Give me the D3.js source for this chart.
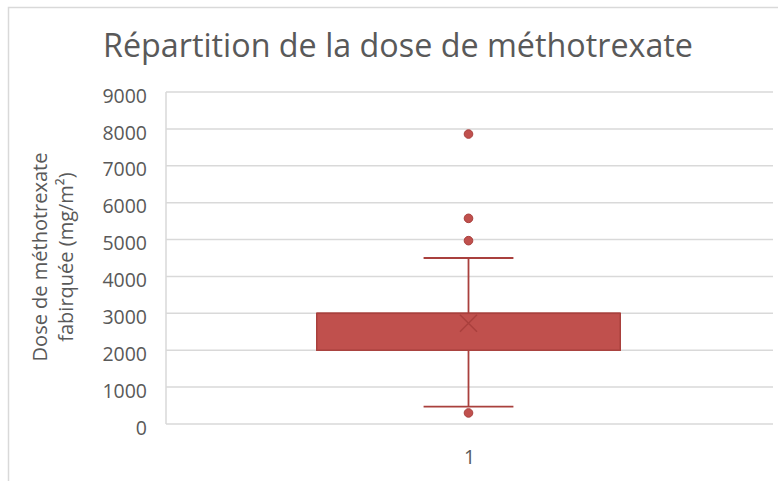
<!DOCTYPE html>
<html lang="fr">
<head>
<meta charset="utf-8">
<style>
body { margin: 0; background: #fff; }
text { font-family: "Open Sans", "Noto Sans", sans-serif; fill: #595959; }
</style>
<script src="https://cdn.jsdelivr.net/npm/d3@7"></script>
</head>
<body>
<div id="chart"></div>
<script>

var width = 778,
	height = 481;

// data
var categories = ["1"];
var q1 = [2000];
var q3 = [3000];
var median = [3000];
var mean = [2730];
var whiskerLow = [470];
var whiskerHigh = [4500];
var outliers = [[7860, 5575, 4970, 300]];
var yTicks = [0, 1000, 2000, 3000, 4000, 5000, 6000, 7000, 8000, 9000];

var title = "Répartition de la dose de méthotrexate";
var yTitle = ["Dose de méthotrexate", "fabirquée (mg/m²)"];

var fill = "#C0504D",
	dark = "#A9403D";

var svg = d3.select("#chart")
	.append("svg")
	.attr("width", width)
	.attr("height", height);

// chart frame
svg.append("path")
	.attr("d", "M8.5," + height + "V7.5H" + width)
	.attr("fill", "none")
	.attr("stroke", "#D9D9D9")
	.attr("stroke-width", 1.5);

var x = d3.scaleBand().domain(categories).range([166, 773]);
var y = d3.scaleLinear().domain([0, 9000]).range([424, 92]);

// gridlines
svg.append("g")
	.selectAll("line")
	.data(yTicks)
	.enter()
	.append("line")
	.attr("x1", 166)
	.attr("x2", 773)
	.attr("y1", function(d){ return y(d); })
	.attr("y2", function(d){ return y(d); })
	.attr("stroke", "#D9D9D9")
	.attr("stroke-width", 1.5);

svg.append("line")
	.attr("x1", 166).attr("x2", 166)
	.attr("y1", y(9000)).attr("y2", y(0))
	.attr("stroke", "#D9D9D9")
	.attr("stroke-width", 1.5);

// y axis labels
var yAxis = d3.axisLeft(y).tickValues(yTicks).tickFormat(d3.format("d")).tickSize(0).tickPadding(19);
var ya = svg.append("g").attr("transform", "translate(166,0)").call(yAxis);
ya.select(".domain").remove();
ya.selectAll("text")
	.attr("dy", "0.52em")
	.style("font-size", "19.5px")
	.style("fill", "#595959")
	.style("font-family", "'Open Sans', sans-serif");

// x axis label
var xAxis = d3.axisBottom(x).tickSize(0).tickPadding(26);
var xa = svg.append("g").attr("transform", "translate(0," + y(0) + ")").call(xAxis);
xa.select(".domain").remove();
xa.selectAll("text")
	.style("font-size", "19.5px")
	.style("fill", "#595959")
	.style("font-family", "'Open Sans', sans-serif");

// title
var t = svg.append("text")
	.attr("x", 103)
	.attr("y", 57)
	.style("font-size", "33px")
	.text(title);
var tl = t.node().getComputedTextLength();
if (tl > 590) t.attr("textLength", 590).attr("lengthAdjust", "spacingAndGlyphs");

// y axis title
var yt = svg.append("text")
	.attr("transform", "translate(0,257) rotate(-90)")
	.attr("text-anchor", "middle")
	.style("font-size", "20px");
yt.selectAll("tspan")
	.data(yTitle)
	.enter()
	.append("tspan")
	.attr("x", 0)
	.attr("y", function(d, i){ return 47 + i * 26; })
	.text(function(d){ return d; });

// box plot
var boxes = svg.append("g")
	.selectAll("g")
	.data(categories)
	.enter()
	.append("g");

boxes.each(function(c, i) {
	var g = d3.select(this);
	var bw = x.bandwidth() * 0.5,
		cw = x.bandwidth() * 0.148,
		cx = x(c) + x.bandwidth() / 2 - 1;

	// whiskers
	g.append("line")
		.attr("x1", cx).attr("x2", cx)
		.attr("y1", y(whiskerHigh[i])).attr("y2", y(q3[i]))
		.attr("stroke", dark).attr("stroke-width", 1.8);
	g.append("line")
		.attr("x1", cx).attr("x2", cx)
		.attr("y1", y(q1[i])).attr("y2", y(whiskerLow[i]))
		.attr("stroke", dark).attr("stroke-width", 1.8);
	[whiskerHigh[i], whiskerLow[i]].forEach(function(v) {
		g.append("line")
			.attr("x1", cx - cw / 2).attr("x2", cx + cw / 2)
			.attr("y1", y(v)).attr("y2", y(v))
			.attr("stroke", dark).attr("stroke-width", 1.8);
	});

	// box
	g.append("rect")
		.attr("x", cx - bw / 2)
		.attr("y", y(q3[i]))
		.attr("width", bw)
		.attr("height", y(q1[i]) - y(q3[i]))
		.attr("fill", fill)
		.attr("stroke", dark)
		.attr("stroke-width", 1.5);

	g.append("line")
		.attr("x1", cx - bw / 2).attr("x2", cx + bw / 2)
		.attr("y1", y(median[i])).attr("y2", y(median[i]))
		.attr("stroke", dark).attr("stroke-width", 1.5);

	// mean marker
	var m = 8.5, my = y(mean[i]);
	g.append("path")
		.attr("d", "M" + (cx - m) + "," + (my - m) + "L" + (cx + m) + "," + (my + m) +
			"M" + (cx - m) + "," + (my + m) + "L" + (cx + m) + "," + (my - m))
		.attr("stroke", dark)
		.attr("stroke-width", 1.5)
		.attr("fill", "none");

	// outliers
	g.selectAll("circle")
		.data(outliers[i])
		.enter()
		.append("circle")
		.attr("cx", cx)
		.attr("cy", function(d){ return y(d); })
		.attr("r", 4.3)
		.attr("fill", fill)
		.attr("stroke", dark)
		.attr("stroke-width", 1);
});

</script>
</body>
</html>
